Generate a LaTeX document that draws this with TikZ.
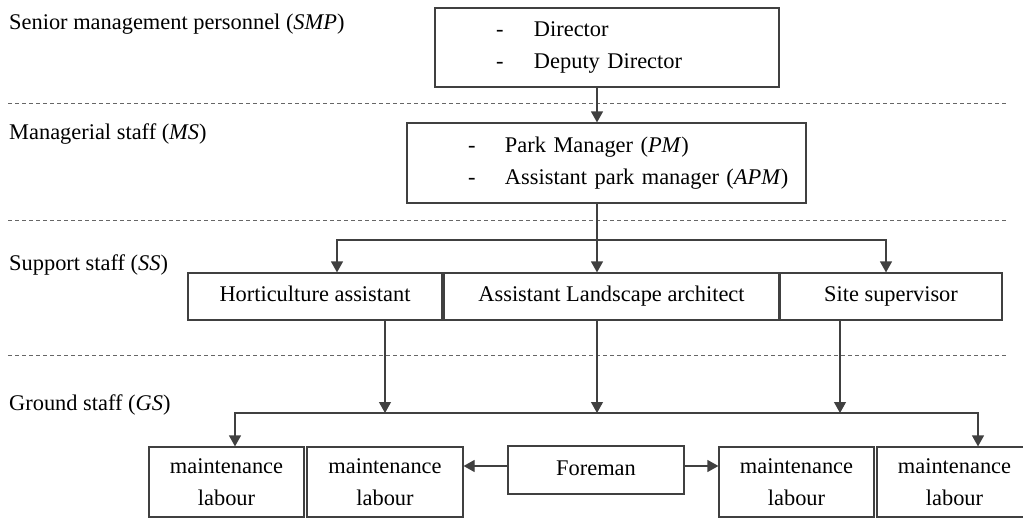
\documentclass[tikz,border=0pt]{standalone}
\usepackage{fontspec}
\setmainfont{Liberation Serif}
\usetikzlibrary{arrows.meta}
\definecolor{ln}{HTML}{404040}
\begin{document}
\begin{tikzpicture}[x=1pt,y=-1pt,
  every node/.style={font=\fontsize{22.4}{32}\selectfont, text=black},
  box/.style={draw=ln, line width=1.2pt, rectangle, inner sep=0pt},
  one/.style={text height=15pt, text depth=5pt},
  lbl/.style={anchor=west, inner sep=0pt},
  arr/.style={draw=ln, line width=1.2pt, -{Triangle[width=12pt,length=11pt]}},
  ln/.style={draw=ln, line width=1.2pt},
  sep/.style={draw=ln!80, line width=1pt, dash pattern=on 4pt off 3pt}]
\useasboundingbox (0,0) rectangle (1023,519);
\clip (0,0) rectangle (1023,519);
% separators
\coordinate (s1a) at (8,103);  \coordinate (s1b) at (1006,103);
\coordinate (s2a) at (8,220);  \coordinate (s2b) at (1006,220);
\coordinate (s3a) at (8,355);  \coordinate (s3b) at (1006,355);
\draw[sep] (s1a) -- (s1b);
\draw[sep] (s2a) -- (s2b);
\draw[sep] (s3a) -- (s3b);
% level labels
\node[lbl] (lsmp) at (9,24) {Senior management personnel (\textit{SMP})};
\node[lbl] (lms) at (9,134) {Managerial staff (\textit{MS})};
\node[lbl] (lss) at (9,265) {Support staff (\textit{SS})};
\node[lbl] (lgs) at (9,405) {Ground staff (\textit{GS})};
% boxes
\node[box, minimum height=79pt, text width=344pt, align=left] (smp) at (607,47.5)
  {\hspace*{61pt}\makebox[38pt][l]{-}Director\\\hspace*{61pt}\makebox[38pt][l]{-}Deputy Director};
\node[box, minimum height=80pt, text width=399pt, align=left] (ms) at (606.5,163)
  {\hspace*{61pt}\makebox[37pt][l]{-}Park Manager (\textit{PM})\\\hspace*{61pt}\makebox[37pt][l]{-}Assistant park manager (\textit{APM})};
\node[box, one, minimum width=254pt, minimum height=47pt] (ha) at (315,296.5) {Horticulture assistant};
\node[box, one, minimum width=335pt, minimum height=47pt] (ala) at (611.5,296.5) {Assistant Landscape architect};
\node[box, one, minimum width=222pt, minimum height=47pt] (ss) at (891,296.5) {Site supervisor};
\node[box, minimum width=155pt, minimum height=70pt, align=center] (m1) at (226.5,482) {maintenance\\labour};
\node[box, minimum width=156pt, minimum height=70pt, align=center] (m2) at (385,482) {maintenance\\labour};
\node[box, one, minimum width=176pt, minimum height=48pt] (fm) at (596,470) {Foreman};
\node[box, minimum width=155pt, minimum height=70pt, align=center] (m3) at (796.5,482) {maintenance\\labour};
\node[box, minimum width=155pt, minimum height=70pt, align=center] (m4) at (954.5,482) {maintenance\\labour};
% connectors
\draw[arr] ([xshift=-10pt]smp.south) -- ([xshift=-10pt]smp.south |- ms.north);
\coordinate (j1) at (597,240);
\draw[ln] (ms.south -| j1) -- (j1);
\draw[arr] (j1) -| ([xshift=22pt]ha.north);
\draw[arr] (j1) -| ([xshift=-5pt]ss.north);
\draw[arr] (j1) -- (j1 |- ala.north);
\coordinate (j2) at (597,413);
\coordinate (j2a) at (385,413);
\coordinate (j2c) at (840,413);
\draw[arr] ([xshift=70pt]ha.south) -- (j2a);
\draw[arr] (ala.south -| j2) -- (j2);
\draw[arr] ([xshift=-51pt]ss.south) -- (j2c);
\draw[arr] (j2) -| ([xshift=8.5pt]m1.north);
\draw[arr] (j2) -| ([xshift=23.5pt]m4.north);
\draw[arr] ([yshift=4pt]fm.west) -- ([yshift=4pt]fm.west -| m2.east);
\draw[arr] ([yshift=4pt]fm.east) -- ([yshift=4pt]fm.east -| m3.west);
\end{tikzpicture}
\end{document}
